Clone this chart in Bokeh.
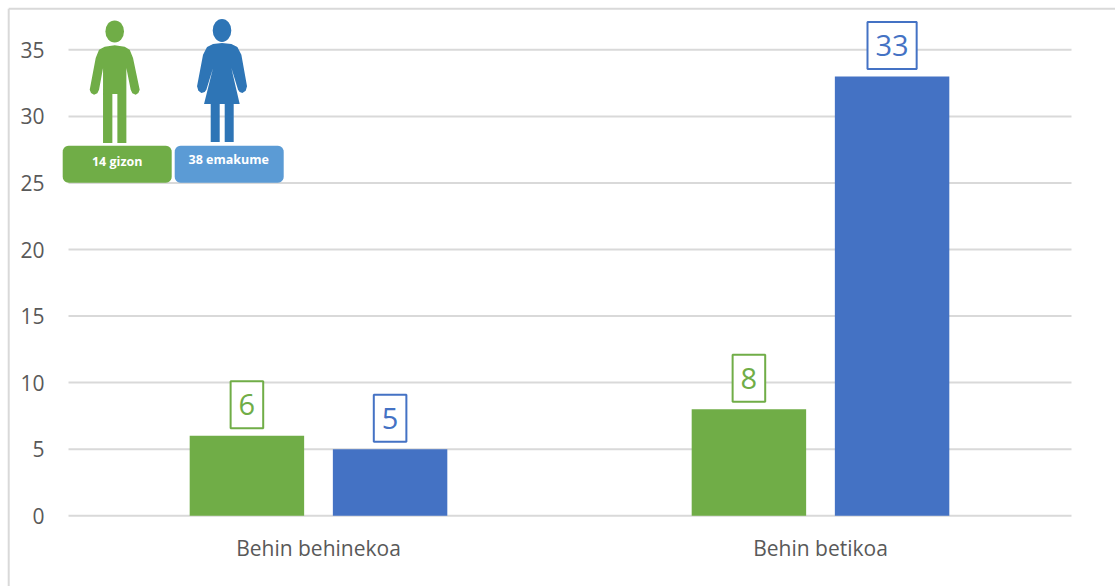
import numpy as np
from bokeh.core.properties import value
from bokeh.embed import file_html
from bokeh.models import ColumnDataSource, FixedTicker, Range1d
from bokeh.plotting import figure
from bokeh.resources import INLINE

categories = ["Behin behinekoa", "Behin betikoa"]
men = [6, 8]
women = [5, 33]
y_ticks = [0, 5, 10, 15, 20, 25, 30, 35]
badge_texts = ["14 gizon", "38 emakume"]

GREEN = "#70AD47"
BLUE = "#4472C4"
ICON_BLUE = "#2E75B6"
BADGE_BLUE = "#5B9BD5"
GRID = "#D9D9D9"
TEXT = "#595959"
FONT = "Open Sans"

WIDTH, HEIGHT = 1115, 586
X_ORIGIN, X_UNIT = 67, 502      # page position of x=0 and pixels per category
Y_ORIGIN, Y_UNIT = 515.2, 13.31   # page position of y=0 and pixels per count
BAR_WIDTH = 0.228
OFFSET = 0.1426
PX_SHIFT = 0.8                  # nudges the pixel coordinate system onto whole pixels

# The plot area fills the page; the axes sit inside it at fixed locations
p = figure(
    width=WIDTH, height=HEIGHT, output_backend="svg", toolbar_location=None,
    x_range=Range1d(-X_ORIGIN / X_UNIT, (WIDTH - X_ORIGIN) / X_UNIT),
    y_range=Range1d((Y_ORIGIN - HEIGHT) / Y_UNIT, Y_ORIGIN / Y_UNIT),
    min_border=0, outline_line_color=None,
    background_fill_color="white", border_fill_color="white",
)
# Second coordinate system in page pixels, for the border and the pictogram
p.extra_x_ranges["px"] = Range1d(PX_SHIFT, WIDTH + PX_SHIFT)
p.extra_y_ranges["px"] = Range1d(HEIGHT + PX_SHIFT, PX_SHIFT)

p.xgrid.visible = False
p.ygrid.visible = False
p.segment(x0=1 / X_UNIT, x1=(1071 - X_ORIGIN) / X_UNIT, y0=y_ticks, y1=y_ticks,
          line_color=GRID, line_width=2)

p.yaxis.fixed_location = 1 / X_UNIT
p.yaxis.ticker = FixedTicker(ticks=y_ticks)
p.yaxis.axis_line_color = None
p.yaxis.major_tick_line_color = None
p.yaxis.minor_tick_line_color = None
p.yaxis.major_label_standoff = 18
p.yaxis.major_label_text_font = FONT
p.yaxis.major_label_text_font_size = "21px"
p.yaxis.major_label_text_color = TEXT

centers = [i + 0.5 for i in range(len(categories))]
p.xaxis.fixed_location = 0
p.xaxis.ticker = FixedTicker(ticks=centers)
p.xaxis.major_label_overrides = {c: name for c, name in zip(centers, categories)}
p.xaxis.axis_line_color = None
p.xaxis.major_tick_line_color = None
p.xaxis.minor_tick_line_color = None
p.xaxis.major_label_standoff = 12
p.xaxis.major_label_text_font = FONT
p.xaxis.major_label_text_font_size = "21px"
p.xaxis.major_label_text_color = TEXT

# Outer chart border: only the top and left edges fall inside the page
p.segment(x0=[9, 9], y0=[9, 9], x1=[WIDTH + 2, 9], y1=[9, HEIGHT + 2], line_color=GRID, line_width=2,
          x_range_name="px", y_range_name="px")

for vals, sign, color in ((men, -1, GREEN), (women, 1, BLUE)):
    xs = [c + sign * OFFSET for c in centers]
    src = ColumnDataSource(dict(x=xs, top=vals, label=[str(v) for v in vals]))
    p.vbar(x="x", top="top", bottom=0, width=BAR_WIDTH, source=src,
           fill_color=color, line_color=None)
    # Boxed value label sitting just above each bar
    p.text(x="x", y="top", text="label", source=src,
           y_offset=-31, text_align="center", text_baseline="middle",
           text_font=value(FONT), text_font_size="29px", text_color=color,
           background_fill_color="white", border_line_color=color, border_line_width=2,
           padding=(8, 13))


def zoomed(points, ox=50, oy=5, s=3):
    """Convert outline points given at 3x scale to page pixels."""
    return [ox + a / s for a, _ in points], [oy + b / s for _, b in points]


def rounded(x0, y0, x1, y1, r):
    """Outline of a rounded rectangle in page pixels."""
    xs, ys = [], []
    arcs = [(x1 - r, y0 + r, -90), (x1 - r, y1 - r, 0), (x0 + r, y1 - r, 90), (x0 + r, y0 + r, 180)]
    for cx, cy, start in arcs:
        t = np.radians(start + np.arange(0, 91, 15))
        xs += list(cx + r * np.cos(t))
        ys += list(cy + r * np.sin(t))
    return xs, ys


man = [(195, 122), (165, 126), (148, 135), (138, 160), (120, 255), (124, 265), (133, 270), (143, 266),
       (148, 255), (160, 190), (160, 415), (188, 415), (188, 268), (203, 268), (203, 415), (230, 415),
       (230, 190), (243, 255), (248, 266), (258, 270), (266, 265), (270, 255), (250, 160), (240, 135),
       (225, 126)]
woman = [(517, 115), (490, 118), (472, 127), (460, 150), (442, 245), (446, 258), (455, 265), (465, 262),
         (470, 255), (490, 190), (463, 298), (483, 298), (483, 412), (510, 412), (510, 298), (525, 298),
         (525, 412), (552, 412), (552, 298), (570, 298), (545, 190), (565, 255), (570, 262), (578, 265),
         (588, 258), (592, 245), (575, 150), (563, 127), (545, 118)]

for outline, head, color in ((man, (115, 31.7, 18.6, 22), GREEN),
                             (woman, (222.3, 30.7, 18.6, 23), ICON_BLUE)):
    ox, oy = zoomed(outline)
    p.patch(ox, oy, fill_color=color, line_color=None, x_range_name="px", y_range_name="px")
    p.ellipse(x=[head[0]], y=[head[1]], width=[head[2]], height=[head[3]], fill_color=color,
              line_color=None, x_range_name="px", y_range_name="px")

badges = [(63, 146, 172, 183, GREEN, 117.5, 162), (175, 146, 284, 183, BADGE_BLUE, 229, 160)]
for (x0, y0, x1, y1, color, tx, ty), label in zip(badges, badge_texts):
    bx, by = rounded(x0, y0, x1, y1, 6)
    p.patch(bx, by, fill_color=color, line_color=None, x_range_name="px", y_range_name="px")
    p.text(x=[tx], y=[ty], text=[label], text_align="center", text_baseline="middle",
           text_font=value(FONT), text_font_style="bold", text_font_size="12.5px", text_color="white",
           x_range_name="px", y_range_name="px")

open("out.html", "w").write(file_html(p, INLINE))
